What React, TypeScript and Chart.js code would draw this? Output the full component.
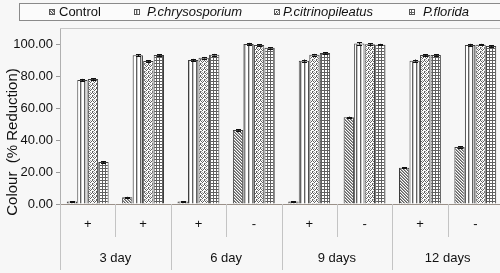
import React, { useEffect, useRef } from "react";
import Chart from "chart.js/auto";

const signs = ["+", "+", "+", "-", "+", "-", "+", "-"];
const dayLabels = ["3 day", "6 day", "9 days", "12 days"];
const seriesNames = ["Control", "P.chrysosporium", "P.citrinopileatus", "P.florida"];
const control = [1.5, 4.2, 1.5, 46.2, 1.5, 54.2, 22.7, 35.6];
const chrysosporium = [77.5, 93.0, 90.0, 100.0, 89.6, 100.3, 89.6, 99.4];
const citrinopileatus = [78.1, 89.4, 91.4, 99.4, 93.3, 99.9, 93.1, 99.6];
const florida = [26.2, 93.1, 93.3, 97.6, 94.4, 99.6, 93.1, 98.7];
const errControl = [0.3, 0.3, 0.3, 0.4, 0.3, 0.4, 0.4, 0.4];
const errChrys = [0.7, 0.7, 0.7, 0.7, 0.7, 0.7, 0.7, 0.7];
const errCitr = [0.5, 0.5, 0.5, 0.5, 0.5, 0.5, 0.5, 0.5];
const errFlor = [0.5, 0.5, 0.5, 0.5, 0.5, 0.5, 0.5, 0.5];
const yTicks = [0, 20, 40, 60, 80, 100];

const FONT = "'Liberation Sans', Arial, sans-serif";
const BG = "#f7f7f7";

function makePattern(kind: string): CanvasPattern | string {
  const c = document.createElement("canvas");
  const size = kind === "zigzag" ? 4 : kind === "grid" ? 3 : kind === "vert" ? 4 : 3;
  c.width = size;
  c.height = kind === "zigzag" ? 4 : size;
  const g = c.getContext("2d")!;
  g.fillStyle = "#ffffff";
  g.fillRect(0, 0, c.width, c.height);
  g.fillStyle = "#606060";
  if (kind === "diag") {
    for (let i = 0; i < 3; i++) g.fillRect(i, i, 1, 1);
    g.fillStyle = "#a0a0a0";
    g.fillRect(1, 0, 1, 1);
    g.fillRect(2, 1, 1, 1);
    g.fillRect(0, 2, 1, 1);
  } else if (kind === "vert") {
    g.fillRect(0, 0, 1, 4);
    g.fillStyle = "#c8c8c8";
    g.fillRect(1, 0, 1, 4);
  } else if (kind === "zigzag") {
    g.fillRect(0, 0, 1, 1);
    g.fillRect(1, 1, 1, 1);
    g.fillRect(2, 2, 1, 1);
    g.fillRect(3, 1, 1, 1);
    g.fillRect(0, 3, 1, 1);
    g.fillStyle = "#b0b0b0";
    g.fillRect(2, 0, 1, 1);
    g.fillRect(1, 3, 1, 1);
  } else if (kind === "grid") {
    g.fillRect(0, 0, 3, 1);
    g.fillRect(0, 0, 1, 3);
  }
  const p = g.createPattern(c, "repeat");
  return p || "#999";
}

export default function App() {
  const ref = useRef<HTMLCanvasElement | null>(null);
  useEffect(() => {
    const canvas = ref.current!;
    const patterns = [makePattern("diag"), makePattern("vert"), makePattern("zigzag"), makePattern("grid")];
    const values = [control, chrysosporium, citrinopileatus, florida];
    const errs = [errControl, errChrys, errCitr, errFlor];

    const custom = {
      id: "custom",
      beforeDraw(chart: any) {
        const ctx = chart.ctx;
        ctx.save();
        ctx.fillStyle = BG;
        ctx.fillRect(0, 0, chart.width, chart.height);
        ctx.restore();
      },
      afterDatasetsDraw(chart: any) {
        const ctx = chart.ctx;
        const y = chart.scales.y;
        ctx.save();
        ctx.strokeStyle = "#111";
        ctx.lineWidth = 1;
        chart.data.datasets.forEach((ds: any, di: number) => {
          const meta = chart.getDatasetMeta(di);
          meta.data.forEach((bar: any, i: number) => {
            const v = values[di][i];
            const e = errs[di][i];
            const x = Math.round(bar.x) + 0.5;
            const y1 = y.getPixelForValue(v + e);
            const y2 = y.getPixelForValue(v - e);
            ctx.beginPath();
            ctx.moveTo(x, y1);
            ctx.lineTo(x, y2);
            ctx.moveTo(x - 2.5, Math.round(y1) + 0.5);
            ctx.lineTo(x + 2.5, Math.round(y1) + 0.5);
            ctx.moveTo(x - 2.5, Math.round(y2) + 0.5);
            ctx.lineTo(x + 2.5, Math.round(y2) + 0.5);
            ctx.stroke();
          });
        });
        ctx.restore();
      },
      afterDraw(chart: any) {
        const ctx = chart.ctx;
        const area = chart.chartArea;
        const xs = chart.scales.x;
        ctx.save();
        ctx.strokeStyle = "#c8c8c8";
        ctx.lineWidth = 1;
        ctx.beginPath();
        ctx.moveTo(area.left, Math.round(area.top) + 0.5);
        ctx.lineTo(area.right, Math.round(area.top) + 0.5);
        ctx.stroke();
        ctx.strokeStyle = "#9a9088";
        ctx.beginPath();
        ctx.moveTo(area.left, Math.round(area.bottom) + 0.5);
        ctx.lineTo(area.right, Math.round(area.bottom) + 0.5);
        ctx.stroke();
        const n = signs.length;
        const step = (area.right - area.left) / n;
        ctx.strokeStyle = "#c4c4c4";
        for (let i = 0; i <= n; i++) {
          const px = Math.round(area.left + i * step) + 0.5;
          const len = i % 2 === 0 ? 66 : 33;
          ctx.beginPath();
          ctx.moveTo(px, area.bottom);
          ctx.lineTo(px, area.bottom + len);
          ctx.stroke();
        }
        ctx.fillStyle = "#111";
        ctx.font = `13px ${FONT}`;
        ctx.textAlign = "center";
        ctx.textBaseline = "middle";
        signs.forEach((s, i) => {
          ctx.fillText(s, xs.getPixelForValue(i), area.bottom + 20);
        });
        dayLabels.forEach((d, k) => {
          const cx = (xs.getPixelForValue(2 * k) + xs.getPixelForValue(2 * k + 1)) / 2;
          ctx.fillText(d, cx, area.bottom + 54);
        });
        ctx.save();
        ctx.translate(13, 142);
        ctx.rotate(-Math.PI / 2);
        ctx.font = `15px ${FONT}`;
        ctx.fillStyle = "#111";
        ctx.fillText("Colour  (% Reduction)", 0, 0);
        ctx.restore();
        ctx.fillStyle = "#fbfbfb";
        ctx.fillRect(19, 3, 481, 17);
        ctx.strokeStyle = "#8a8a8a";
        ctx.strokeRect(19.5, 3.5, 482, 17);
        const iconX = [49, 134, 274, 409];
        const textX = [59, 147, 283, 423];
        seriesNames.forEach((name, i) => {
          ctx.fillStyle = patterns[i] as any;
          ctx.fillRect(iconX[i], 9, 6, 6);
          ctx.strokeStyle = "#555";
          ctx.strokeRect(iconX[i] + 0.5, 9.5, 5, 5);
          ctx.fillStyle = "#111";
          ctx.textAlign = "left";
          ctx.font = (i === 0 ? "" : "italic ") + `13px ${FONT}`;
          ctx.fillText(name, textX[i], 12);
        });
        ctx.restore();
      },
    };

    const chart = new Chart(canvas, {
      type: "bar",
      data: {
        labels: signs,
        datasets: seriesNames.map((name, i) => ({
          label: name,
          data: values[i],
          backgroundColor: patterns[i] as any,
          borderColor: "#3c3c3c",
          borderWidth: 1,
          barPercentage: 0.98,
          categoryPercentage: 0.76,
        })),
      },
      options: {
        responsive: false,
        animation: false,
        layout: { padding: { top: 28, bottom: 69, left: 0, right: 0 } },
        plugins: { legend: { display: false }, tooltip: { enabled: false } },
        scales: {
          x: { display: false, offset: true },
          y: {
            min: 0,
            max: 110,
            afterBuildTicks: (axis: any) => {
              axis.ticks = yTicks.map((v) => ({ value: v }));
            },
            afterFit: (axis: any) => {
              axis.width = 60;
            },
            ticks: {
              callback: (v: any) => Number(v).toFixed(2),
              font: { family: FONT, size: 13 },
              color: "#111",
              padding: 3,
            },
            grid: { drawOnChartArea: false, tickLength: 4, color: "#999" },
            border: { color: "#b0b0b0" },
          },
        },
      },
      plugins: [custom],
    });
    return () => chart.destroy();
  }, []);
  return (
    <div style={{ position: "absolute", left: 0, top: 0, width: 500, height: 273, overflow: "hidden" }}>
      <canvas ref={ref} width={503} height={273} style={{ width: 503, height: 273, display: "block" }} />
    </div>
  );
}
